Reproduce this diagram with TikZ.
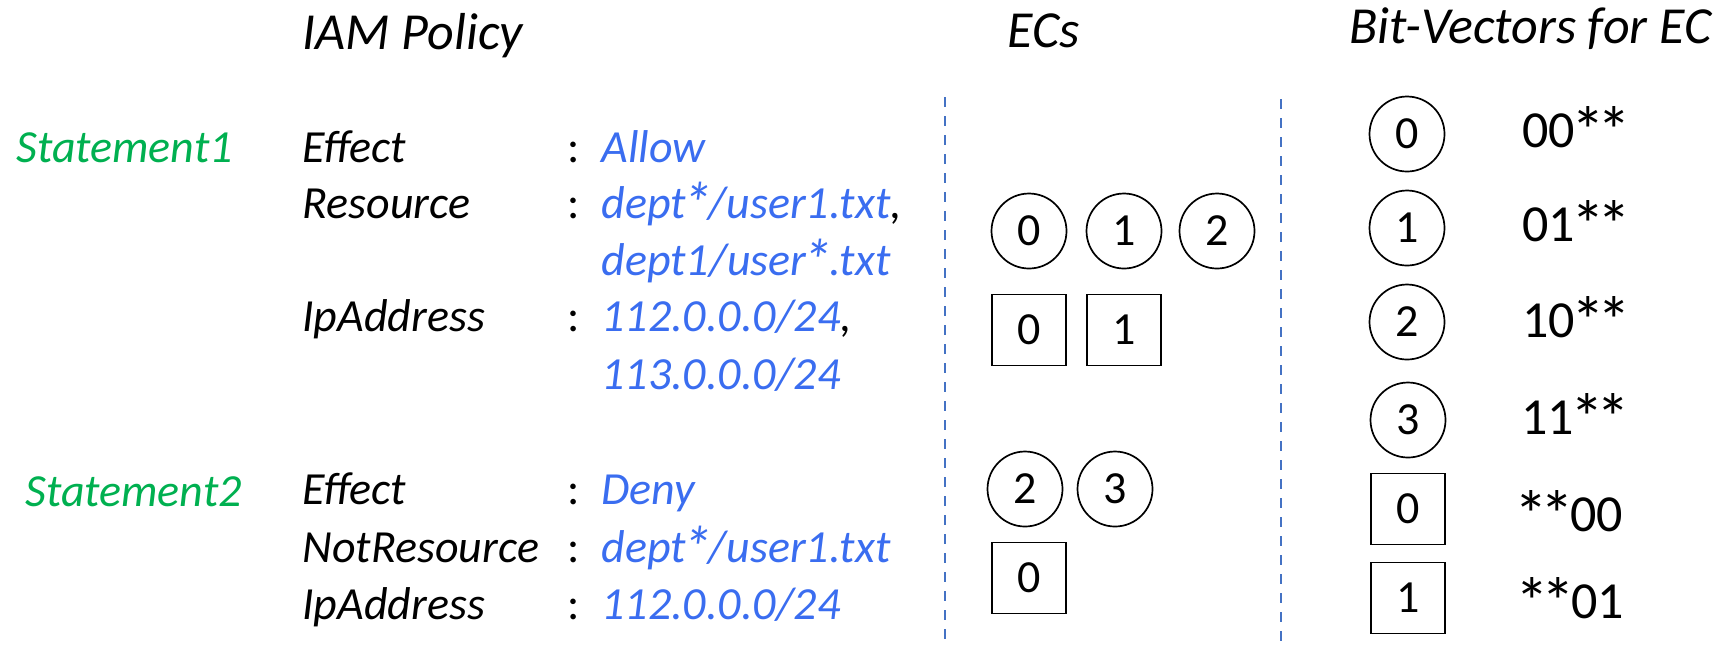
\documentclass[tikz,border=0pt]{standalone}
\usepackage{fontspec}
\usepackage{graphicx}
\setmainfont{Carlito}
\definecolor{stmtgreen}{HTML}{00B050}
\definecolor{valblue}{HTML}{3A6DF0}
\definecolor{sepblue}{HTML}{4472C4}
% a fuller asterisk that keeps the normal advance width
\newcommand{\fullast}{\makebox[0.498em]{\raisebox{-0.15em}{\scalebox{1.3}{*}}}}
\begin{document}
\begin{tikzpicture}[x=0.5pt,y=-0.5pt,
  title/.style={anchor=base west, inner sep=0pt, font=\fontsize{26}{30}\selectfont\itshape},
  keytext/.style={anchor=base west, inner sep=0pt, font=\fontsize{23}{28}\selectfont\itshape},
  valtext/.style={keytext, text=valblue},
  stmt/.style={keytext, text=stmtgreen},
  colon/.style={anchor=base, inner sep=0pt, font=\fontsize{23}{28}\selectfont},
  eccirc/.style={circle, draw, line width=0.85pt, minimum size=37.5pt, inner sep=0pt,
                 font=\fontsize{23}{28}\selectfont},
  ecbox/.style={rectangle, draw, line width=0.85pt, minimum width=37pt, minimum height=35.5pt,
                inner sep=0pt, font=\fontsize{23}{28}\selectfont},
  bits/.style={anchor=base west, inner sep=0pt, font=\fontsize{26}{30}\selectfont},
  sep/.style={draw=sepblue, line width=1pt, dash pattern=on 5pt off 4.5pt}]
\useasboundingbox (0,0) rectangle (1729,645);

% column headings
\node[title] (hpolicy) at (302,49) {IAM Policy};
\node[title] (hecs) at (1007,47) {ECs};
\node[title] (hbits) at (1349,43) {Bit-Vectors for EC};

% statement 1
\node[stmt] (s1) at (16,162) {Statement1};
\node[keytext] (s1eff) at (302,162) {Effect};
\node[colon] (s1c1) at (574,162) {:};
\node[valtext] (s1effv) at (601,162) {Allow};
\node[keytext] (s1res) at (302,218) {Resource};
\node[colon] (s1c2) at (574,218) {:};
\node[keytext] (s1resv1) at (601,218) {\textcolor{valblue}{dept\fullast/user1.txt},};
\node[valtext] (s1resv2) at (601,275) {dept1/user\fullast.txt};
\node[keytext] (s1ip) at (302,331) {IpAddress};
\node[colon] (s1c3) at (574,331) {:};
\node[keytext] (s1ipv1) at (601,331) {\textcolor{valblue}{112.0.0.0/24},};
\node[valtext] (s1ipv2) at (601,389) {113.0.0.0/24};

% statement 2
\node[stmt] (s2) at (25,506) {Statement2};
\node[keytext] (s2eff) at (302,504) {Effect};
\node[colon] (s2c1) at (574,504) {:};
\node[valtext] (s2effv) at (601,504) {Deny};
\node[keytext] (s2res) at (302,562) {NotResource};
\node[colon] (s2c2) at (574,562) {:};
\node[valtext] (s2resv) at (601,562) {dept\fullast/user1.txt};
\node[keytext] (s2ip) at (302,619) {IpAddress};
\node[colon] (s2c3) at (574,619) {:};
\node[valtext] (s2ipv) at (601,619) {112.0.0.0/24};

% column separators
\coordinate (sepAtop) at (945,97);
\coordinate (sepAbot) at (945,645);
\coordinate (sepBtop) at (1281,99);
\coordinate (sepBbot) at (1281,645);
\draw[sep] (sepAtop) -- (sepAbot);
\draw[sep] (sepBtop) -- (sepBbot);

% equivalence classes of statement 1
\node[eccirc] (e1c0) at (1029,231) {0};
\node[eccirc] (e1c1) at (1124,231) {1};
\node[eccirc] (e1c2) at (1217,231) {2};
\node[ecbox] (e1b0) at (1029,330) {0};
\node[ecbox] (e1b1) at (1124,330) {1};

% equivalence classes of statement 2
\node[eccirc] (e2c2) at (1025,489) {2};
\node[eccirc] (e2c3) at (1115,489) {3};
\node[ecbox] (e2b0) at (1029,578) {0};

% bit-vector encodings
\node[eccirc] (bc0) at (1407,134) {0};
\node[bits] (bv0) at (1522,147) {00\fullast\fullast};
\node[eccirc] (bc1) at (1407,228) {1};
\node[bits] (bv1) at (1522,241) {01\fullast\fullast};
\node[eccirc] (bc2) at (1407,322) {2};
\node[bits] (bv2) at (1522,337) {10\fullast\fullast};
\node[eccirc] (bc3) at (1408,420) {3};
\node[bits] (bv3) at (1521,434) {11\fullast\fullast};
\node[ecbox] (bb0) at (1408,509) {0};
\node[bits] (bv4) at (1518,531) {\fullast\fullast00};
\node[ecbox] (bb1) at (1408,598) {1};
\node[bits] (bv5) at (1519,618) {\fullast\fullast01};
\end{tikzpicture}
\end{document}
